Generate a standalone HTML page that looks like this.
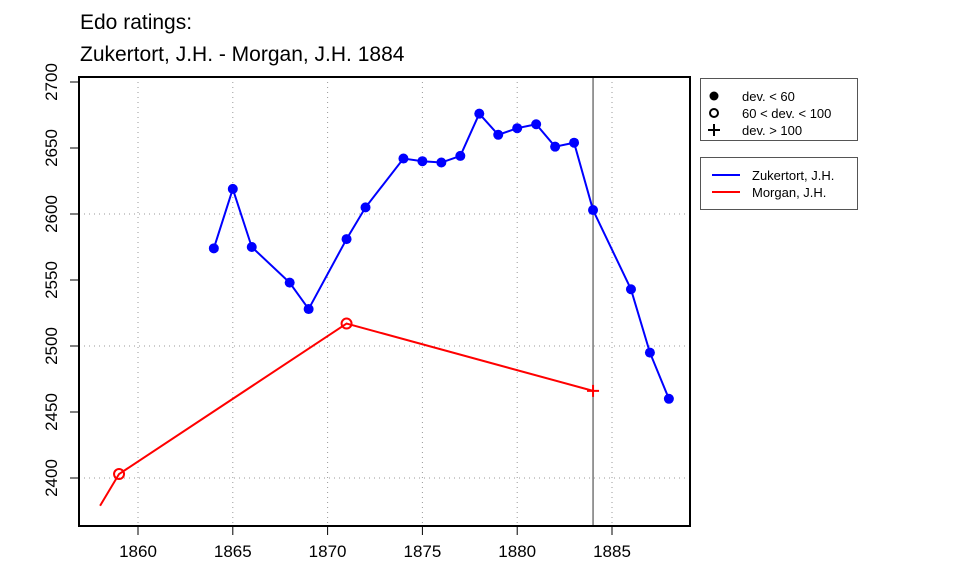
<!DOCTYPE html>
<html><head><meta charset="utf-8"><style>body{margin:0;background:#fff}svg text{font-family:"Liberation Sans",sans-serif}</style></head>
<body>
<svg width="960" height="576" xmlns="http://www.w3.org/2000/svg">
<rect width="960" height="576" fill="#fff"/>
<text x="80" y="29" font-size="21">Edo ratings:</text>
<text x="80" y="61" font-size="21">Zukertort, J.H. - Morgan, J.H. 1884</text>
<g id="grid"></g>
<g id="axes"></g>
<g id="marks"></g>
<rect x="79" y="77" width="611" height="449" fill="none" stroke="#000" stroke-width="2"/>
<g>
<rect x="700.5" y="78.5" width="157" height="62" fill="#fff" stroke="#555"/>
<circle cx="714" cy="96" r="4.5" fill="#000"/>
<circle cx="714" cy="113" r="4" fill="none" stroke="#000" stroke-width="2"/>
<path d="M708 130h12M714 124v12" stroke="#000" stroke-width="2"/>
<text x="742" y="101" font-size="13">dev. &lt; 60</text>
<text x="742" y="118" font-size="13">60 &lt; dev. &lt; 100</text>
<text x="742" y="135" font-size="13">dev. &gt; 100</text>
</g>
<g>
<rect x="700.5" y="157.5" width="157" height="52" fill="#fff" stroke="#555"/>
<line x1="712" x2="740" y1="175" y2="175" stroke="#00f" stroke-width="2"/>
<line x1="712" x2="740" y1="192" y2="192" stroke="#f00" stroke-width="2"/>
<text x="752" y="180" font-size="13">Zukertort, J.H.</text>
<text x="752" y="197" font-size="13">Morgan, J.H.</text>
</g>
</svg>
<script>
const zYears=[1864,1865,1866,1868,1869,1871,1872,1874,1875,1876,1877,1878,1879,1880,1881,1882,1883,1884,1886,1887,1888];
const zRatings=[2574,2619,2575,2548,2528,2581,2605,2642,2640,2639,2644,2676,2660,2665,2668,2651,2654,2603,2543,2495,2460];
const mYears=[1858,1859,1871,1884];
const mRatings=[2379,2403,2517,2466];
const mMarkers=["none","open","open","plus"];
const xTicks=[1860,1865,1870,1875,1880,1885];
const yTicks=[2400,2450,2500,2550,2600,2650,2700];
const yGrid=[2400,2500,2600];
const eventYear=1884;
const X=y=>138+(y-1860)*18.96;
const Y=v=>82+(2700-v)*1.32;
const NS="http://www.w3.org/2000/svg";
function mk(parent,tag,attrs){const e=document.createElementNS(NS,tag);for(const k in attrs)e.setAttribute(k,attrs[k]);document.getElementById(parent).appendChild(e);return e;}
xTicks.forEach(t=>{
 const g=mk('grid','line',{x1:X(t),x2:X(t),y1:77,y2:526,stroke:'#999','stroke-dasharray':'1 4'});
 
 
 const tk=mk('axes','line',{x1:X(t),x2:X(t),y1:526,y2:535,stroke:'#000'});
 
 
 const tx=mk('axes','text',{x:X(t),y:557,'font-size':17,'text-anchor':'middle'});tx.textContent=t;
 
 
});
yGrid.forEach(t=>{
 const g=mk('grid','line',{x1:79,x2:690,y1:Y(t),y2:Y(t),stroke:'#999','stroke-dasharray':'1 4'});
 
 
});
yTicks.forEach(t=>{
 const tk=mk('axes','line',{x1:70,x2:79,y1:Y(t),y2:Y(t),stroke:'#000'});
 
 
 const tx=mk('axes','text',{x:0,y:0,'font-size':17,'text-anchor':'middle',transform:`translate(57,${Y(t)}) rotate(-90)`});tx.textContent=t;
 
 
});
const vl=mk('grid','line',{x1:X(eventYear),x2:X(eventYear),y1:77,y2:526,stroke:'#333','stroke-width':1});


const zl=mk('marks','polyline',{points:zYears.map((y,i)=>X(y)+','+Y(zRatings[i])).join(' '),fill:'none',stroke:'#00f','stroke-width':2});


zYears.forEach((y,i)=>{
 const c=mk('marks','circle',{cx:X(y),cy:Y(zRatings[i]),r:5,fill:'#00f'});
 
 
});
const ml=mk('marks','polyline',{points:mYears.map((y,i)=>X(y)+','+Y(mRatings[i])).join(' '),fill:'none',stroke:'#f00','stroke-width':2});


mYears.forEach((y,i)=>{
 const cx=X(y),cy=Y(mRatings[i]);
 if(mMarkers[i]==='open'){
  const c=mk('marks','circle',{cx,cy,r:5,fill:'none',stroke:'#f00','stroke-width':2});
  
  
 }else if(mMarkers[i]==='plus'){
  const p=mk('marks','path',{d:`M${cx-6} ${cy}h12M${cx} ${cy-6}v12`,stroke:'#f00','stroke-width':2});
  
  
 }
});
</script>
</body></html>
